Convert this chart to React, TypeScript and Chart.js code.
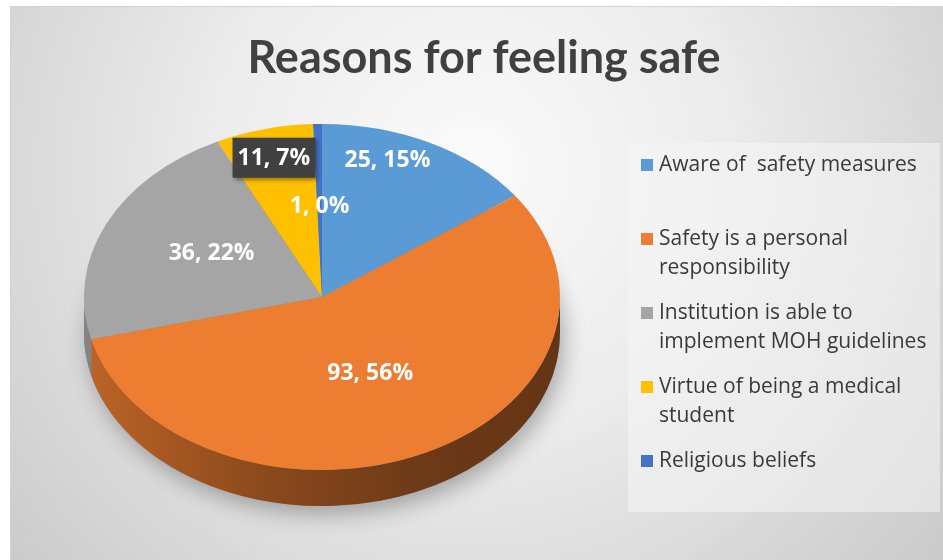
import React, { useEffect, useRef } from "react";
import { Chart, registerables } from "chart.js";

Chart.register(...registerables);

// ---------- data ----------
const chartTitle = "Reasons for feeling safe";
const categories = [
  "Aware of  safety measures",
  "Safety is a personal responsibility",
  "Institution is able to implement MOH guidelines",
  "Virtue of being a medical student",
  "Religious beliefs",
];
const counts = [25, 93, 36, 11, 1];
const percentLabels = ["15%", "56%", "22%", "7%", "0%"];
const sliceColors = ["#5B9BD5", "#ED7D31", "#A5A5A5", "#FFC000", "#4472C4"];

// ---------- style / layout ----------
const W = 943;
const H = 560;
const PIE = { cx: 322, cy: 297, rx: 238, ry: 173, depth: 36 };
const LABEL_R = [0.84, 0.48, 0.53, 0.83, 0.53];
const LABEL_DA = [-8, 0, 4, 0, 0];
const LABEL_BOX = [false, false, false, true, false];
const LEGEND = { boxX: 628, boxY: 143, boxW: 312, boxH: 369, markX: 641, textX: 659, firstBase: 171, step: 74, lineH: 29, maxW: 282 };

function shade(hex: string, f: number) {
  const n = parseInt(hex.slice(1), 16);
  const r = Math.round(((n >> 16) & 255) * f);
  const g = Math.round(((n >> 8) & 255) * f);
  const b = Math.round((n & 255) * f);
  return `rgb(${r},${g},${b})`;
}

function wrap(ctx: CanvasRenderingContext2D, text: string, maxW: number) {
  const words = text.split(" ");
  const lines: string[] = [];
  let cur = "";
  for (let i = 0; i < words.length; i++) {
    const w = words[i];
    const test = cur === "" ? w : cur + " " + w;
    if (cur !== "" && w !== "" && ctx.measureText(test).width > maxW) {
      lines.push(cur);
      cur = w;
    } else {
      cur = test;
    }
  }
  if (cur) lines.push(cur);
  return lines;
}

const pie3d = {
  id: "pie3d",
  beforeDraw(chart: any) {
    const ctx: CanvasRenderingContext2D = chart.ctx;
    ctx.save();
    ctx.fillStyle = "#ffffff";
    ctx.fillRect(0, 0, W, H);
    const g = ctx.createRadialGradient(470, 170, 0, 470, 170, 600);
    g.addColorStop(0, "#fbfbfb");
    g.addColorStop(0.45, "#ebebeb");
    g.addColorStop(1, "#cbcbcb");
    ctx.fillStyle = g;
    ctx.fillRect(11, 7, W - 11, H - 7);
    ctx.strokeStyle = "#d2d2d2";
    ctx.lineWidth = 1;
    ctx.strokeRect(10.5, 6.5, W, H);
    // legend panel
    ctx.fillStyle = "rgba(246,246,246,0.55)";
    ctx.fillRect(LEGEND.boxX, LEGEND.boxY, LEGEND.boxW, LEGEND.boxH);
    ctx.restore();
  },
  beforeDatasetsDraw(chart: any) {
    const ctx: CanvasRenderingContext2D = chart.ctx;
    const arcs = chart.getDatasetMeta(0).data;
    const a0 = arcs[0];
    const R = a0.outerRadius;
    const { cx, cy, rx, ry, depth } = PIE;
    ctx.save();
    // soft shadow under the pie
    ctx.save();
    ctx.shadowColor = "rgba(0,0,0,0.3)";
    ctx.shadowBlur = 22;
    ctx.shadowOffsetX = 4;
    ctx.shadowOffsetY = 8;
    ctx.fillStyle = "#8a8a8a";
    ctx.beginPath();
    ctx.ellipse(cx, cy + depth, rx, ry, 0, 0, Math.PI * 2);
    ctx.fill();
    ctx.restore();
    // side walls
    arcs.forEach((arc: any, i: number) => {
      const s = Math.max(arc.startAngle, 0);
      const e = Math.min(arc.endAngle, Math.PI);
      if (e <= s) return;
      const c = sliceColors[i];
      const lg = ctx.createLinearGradient(cx - rx, 0, cx + rx, 0);
      lg.addColorStop(0, shade(c, 0.8));
      lg.addColorStop(0.35, shade(c, 0.6));
      lg.addColorStop(0.7, shade(c, 0.46));
      lg.addColorStop(1, shade(c, 0.42));
      ctx.fillStyle = lg;
      ctx.beginPath();
      ctx.ellipse(cx, cy, rx, ry, 0, s, e);
      ctx.ellipse(cx, cy + depth, rx, ry, 0, e, s, true);
      ctx.closePath();
      ctx.fill();
    });
    ctx.restore();
    // squash the library's pie into the top face ellipse
    ctx.save();
    ctx.translate(cx, cy);
    ctx.scale(rx / R, ry / R);
    ctx.translate(-a0.x, -a0.y);
  },
  afterDatasetsDraw(chart: any) {
    const ctx: CanvasRenderingContext2D = chart.ctx;
    ctx.restore();
    const arcs = chart.getDatasetMeta(0).data;
    const { cx, cy, rx, ry } = PIE;
    ctx.save();
    ctx.font = "bold 23px 'Open Sans'";
    ctx.textAlign = "center";
    ctx.textBaseline = "middle";
    arcs.forEach((arc: any, i: number) => {
      const mid = (arc.startAngle + arc.endAngle) / 2 + (LABEL_DA[i] * Math.PI) / 180;
      const x = cx + rx * LABEL_R[i] * Math.cos(mid);
      const y = cy + ry * LABEL_R[i] * Math.sin(mid);
      const txt = `${counts[i]}, ${percentLabels[i]}`;
      if (LABEL_BOX[i]) {
        const tw = ctx.measureText(txt).width;
        ctx.save();
        ctx.shadowColor = "rgba(0,0,0,0.4)";
        ctx.shadowBlur = 4;
        ctx.shadowOffsetX = 2;
        ctx.shadowOffsetY = 2;
        ctx.fillStyle = "#404040";
        ctx.fillRect(x - tw / 2 - 5, y - 20, tw + 10, 40);
        ctx.restore();
      }
      ctx.fillStyle = "#ffffff";
      ctx.fillText(txt, x, y + 1);
    });
    ctx.restore();
  },
  afterDraw(chart: any) {
    const ctx: CanvasRenderingContext2D = chart.ctx;
    const labels: string[] = chart.data.labels;
    const colors: string[] = chart.data.datasets[0].backgroundColor;
    ctx.save();
    ctx.font = "21px 'Open Sans'";
    ctx.textAlign = "left";
    ctx.textBaseline = "alphabetic";
    labels.forEach((lab, i) => {
      const base = LEGEND.firstBase + i * LEGEND.step;
      ctx.fillStyle = colors[i];
      ctx.fillRect(LEGEND.markX, base - 12, 12, 12);
      ctx.fillStyle = "#3a3a3a";
      wrap(ctx, lab, LEGEND.maxW).forEach((ln, j) => {
        ctx.fillText(ln, LEGEND.textX, base + j * LEGEND.lineH);
      });
    });
    ctx.restore();
  },
};

export default function App() {
  const ref = useRef<HTMLCanvasElement | null>(null);
  useEffect(() => {
    if (!ref.current) return;
    const chart = new Chart(ref.current, {
      type: "pie",
      data: {
        labels: categories,
        datasets: [
          {
            data: counts,
            backgroundColor: sliceColors,
            borderWidth: 0,
          },
        ],
      },
      options: {
        responsive: false,
        animation: false,
        devicePixelRatio: 1,
        layout: { padding: { left: 25, right: 0, top: 0, bottom: 0 } },
        plugins: {
          legend: { display: false },
          tooltip: { enabled: false },
          title: {
            display: true,
            text: chartTitle,
            color: "#404040",
            font: { family: "Lato", size: 45, weight: "bold" },
            padding: { top: 31, bottom: 10 },
          },
        },
      },
      plugins: [pie3d],
    });
    return () => chart.destroy();
  }, []);
  return (
    <div style={{ position: "fixed", left: 0, top: 0, width: W, height: H }}>
      <canvas ref={ref} width={W} height={H} style={{ display: "block", width: W, height: H }} />
    </div>
  );
}
